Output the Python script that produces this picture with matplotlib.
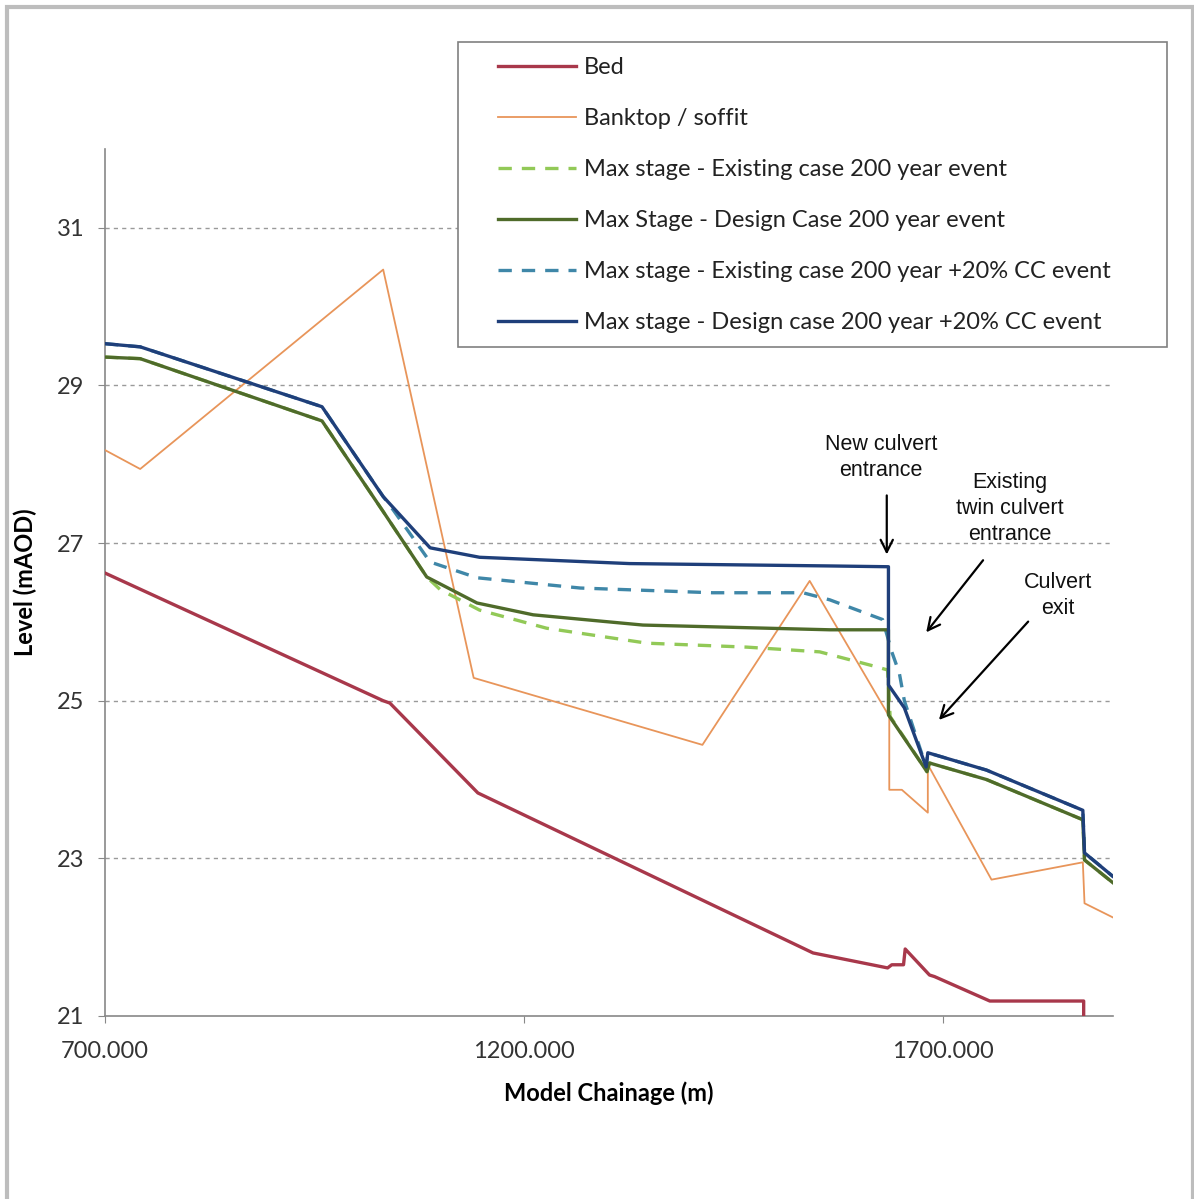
import matplotlib.pyplot as plt
from matplotlib.patches import Rectangle

# long section data (model chainage in m, level in mAOD)
bed_x = [700, 1032, 1040, 1145, 1545, 1634, 1639, 1653, 1655, 1684, 1690, 1756, 1868, 1868]
bed_y = [26.62, 25.00, 24.97, 23.83, 21.80, 21.61, 21.65, 21.65, 21.85, 21.52, 21.50, 21.19, 21.19, 20.9]

bank_x = [700, 742, 1032, 1140, 1413, 1541, 1636, 1636, 1651, 1682, 1682, 1758, 1867, 1869, 1903]
bank_y = [28.18, 27.94, 30.47, 25.29, 24.44, 26.52, 24.80, 23.87, 23.87, 23.58, 24.19, 22.73, 22.95, 22.43, 22.25]

ex200_x = [700, 742, 959, 1032, 1084, 1100, 1147, 1227, 1347, 1466, 1553, 1621, 1634, 1637,
           1681, 1684, 1752, 1867, 1869, 1903]
ex200_y = [29.36, 29.34, 28.55, 27.40, 26.57, 26.41, 26.15, 25.92, 25.73, 25.68, 25.62, 25.43, 25.39, 24.80,
           24.10, 24.21, 24.00, 23.49, 22.98, 22.69]

des200_x = [700, 742, 959, 1032, 1084, 1144, 1211, 1342, 1565, 1635, 1635, 1681, 1684, 1752, 1867, 1869, 1903]
des200_y = [29.36, 29.34, 28.55, 27.40, 26.57, 26.24, 26.09, 25.96, 25.90, 25.90, 24.82, 24.10, 24.21, 24.00,
            23.49, 22.98, 22.69]

excc_x = [700, 742, 959, 1032, 1044, 1088, 1144, 1267, 1425, 1533, 1565, 1628, 1639, 1648, 1654,
          1680, 1682, 1752, 1867, 1869, 1903]
excc_y = [29.53, 29.49, 28.73, 27.59, 27.42, 26.76, 26.56, 26.43, 26.37, 26.37, 26.28, 26.03, 25.62, 25.35, 25.00,
          24.16, 24.34, 24.12, 23.61, 23.07, 22.77]

descc_x = [700, 742, 959, 1032, 1088, 1147, 1326, 1565, 1635, 1635, 1654, 1680, 1682, 1752, 1867, 1869, 1903]
descc_y = [29.53, 29.49, 28.73, 27.59, 26.94, 26.82, 26.74, 26.71, 26.70, 25.20, 24.91, 24.16, 24.34, 24.12,
           23.61, 23.07, 22.77]

labels = ["Bed", "Banktop / soffit",
          "Max stage - Existing case 200 year event",
          "Max Stage - Design Case 200 year event",
          "Max stage - Existing case 200 year +20% CC event",
          "Max stage - Design case 200 year +20% CC event"]

y_ticks = [21, 23, 25, 27, 29, 31]
x_ticks = [700, 1200, 1700]

plt.rcParams['font.family'] = ['Lato', 'DejaVu Sans']

W, H = 1194, 1199
fig = plt.figure(figsize=(W / 100, H / 100), dpi=100)
ax = fig.add_axes([105 / W, 1 - 1016 / H, (1113 - 105) / W, (1016 - 149) / H])

ax.plot(bed_x, bed_y, color='#A8384B', lw=2.4, label=labels[0], zorder=3)
ax.plot(bank_x, bank_y, color='#E8955A', lw=1.3, label=labels[1], zorder=3)
ax.plot(ex200_x, ex200_y, color='#92C957', lw=2.4, ls=(0, (4, 3)), label=labels[2], zorder=4)
ax.plot(des200_x, des200_y, color='#4F6B2A', lw=2.4, label=labels[3], zorder=5)
ax.plot(excc_x, excc_y, color='#3F87A8', lw=2.4, ls=(0, (4, 3)), label=labels[4], zorder=4)
ax.plot(descc_x, descc_y, color='#1F3F7A', lw=2.4, label=labels[5], zorder=6)

ax.set_xlim(700, 1903)
ax.set_ylim(21, 32)
ax.set_yticks(y_ticks)
ax.set_xticks(x_ticks)
ax.set_xticklabels([f"{v:.3f}" for v in x_ticks])
ax.tick_params(labelsize=17, length=5, color='#888888', labelcolor='#333333')
ax.tick_params(axis='x', pad=13)
ax.tick_params(axis='y', pad=10)

for v in y_ticks[1:]:
    ax.axhline(v, color='#9A9A9A', lw=1, ls=(0, (3, 3)), zorder=1)

for s in ['top', 'right']:
    ax.spines[s].set_visible(False)
for s in ['left', 'bottom']:
    ax.spines[s].set_color('#888888')
    ax.spines[s].set_linewidth(1.2)

ax.set_xlabel("Model Chainage (m)", fontsize=17, fontweight='bold', labelpad=14)
ax.set_ylabel("Level (mAOD)", fontsize=17, fontweight='bold', labelpad=14)

# culvert annotations
afont = dict(family=['Liberation Sans', 'DejaVu Sans'], fontsize=15.5, ha='center', va='center',
             linespacing=1.3, color='#111111')
ax.text(1626, 28.09, "New culvert\nentrance", **afont)
ax.text(1780, 27.44, "Existing\ntwin culvert\nentrance", **afont)
ax.text(1837, 26.33, "Culvert\nexit", **afont)
aprops = dict(arrowstyle='->', color='black', lw=1.6, mutation_scale=22)
ax.annotate("", xy=(1633, 26.82), xytext=(1633, 27.64), arrowprops=aprops)
ax.annotate("", xy=(1678, 25.84), xytext=(1750, 26.81), arrowprops=aprops)
ax.annotate("", xy=(1693, 24.73), xytext=(1804, 26.03), arrowprops=aprops)

leg = fig.legend(loc='upper left', bbox_to_anchor=(498 / W, 1 - 57 / H), fontsize=17,
                 frameon=False, handlelength=3.3, labelspacing=1.27, borderpad=0,
                 handletextpad=0.35, borderaxespad=0)
leg.set_zorder(5)
for t in leg.get_texts():
    t.set_color('#222222')

# legend box (opaque, covers grid) and outer chart border
fig.patches.append(Rectangle((458 / W, 1 - 347 / H), (1167 - 458) / W, (347 - 42) / H,
                             transform=fig.transFigure, facecolor='white', edgecolor='#808080',
                             lw=1.2, zorder=2))
fig.patches.append(Rectangle((7 / W, -0.01), (1193 - 7) / W, 1.01 - 7 / H,
                             transform=fig.transFigure, fill=False, edgecolor='#BDBDBD', lw=3, zorder=2))

fig.savefig("out.png", dpi=100)
